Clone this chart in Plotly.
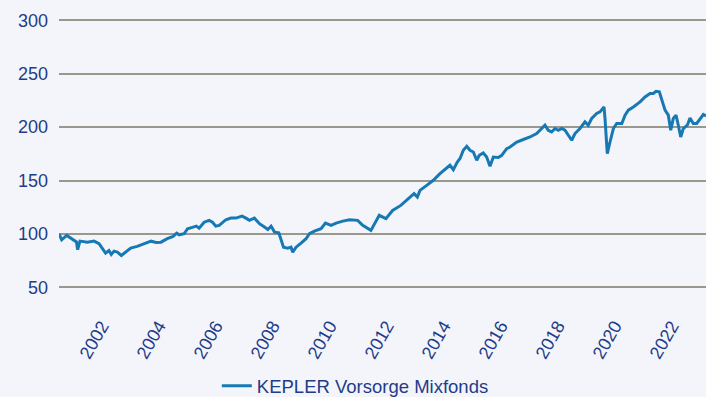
import plotly.graph_objects as go

# Fund price index (start = 100), sampled along the history
dates = [
    "2000-12-25", "2001-01-28", "2001-04-03", "2001-05-15", "2001-06-26", "2001-08-06",
    "2001-08-21", "2001-09-20", "2001-12-23", "2002-03-19", "2002-05-22", "2002-07-03",
    "2002-08-14", "2002-09-26", "2002-10-26", "2002-11-30", "2003-01-12", "2003-03-04",
    "2003-04-27", "2003-07-02", "2003-09-23", "2003-12-24", "2004-03-19", "2004-05-21",
    "2004-07-24", "2004-10-13", "2004-12-26", "2005-02-10", "2005-03-13", "2005-05-17",
    "2005-06-29", "2005-09-09", "2005-10-20", "2005-11-24", "2006-01-28", "2006-04-02",
    "2006-05-15", "2006-06-26", "2006-08-09", "2006-11-02", "2007-01-06", "2007-03-11",
    "2007-05-28", "2007-07-18", "2007-08-31", "2007-11-03", "2008-01-07", "2008-03-11",
    "2008-04-23", "2008-06-04", "2008-07-18", "2008-09-11", "2008-10-10", "2008-11-10",
    "2009-01-03", "2009-02-14", "2009-03-08", "2009-04-20", "2009-06-23", "2009-08-26",
    "2009-10-08", "2009-12-11", "2010-03-06", "2010-05-01", "2010-07-13", "2010-09-15",
    "2010-12-10", "2011-03-05", "2011-06-18", "2011-08-22", "2011-12-05", "2012-03-21",
    "2012-06-14", "2012-09-08", "2012-12-22", "2013-04-07", "2013-06-10", "2013-07-22",
    "2013-08-25", "2013-11-19", "2014-02-12", "2014-05-08", "2014-08-02", "2014-09-13",
    "2014-10-26", "2014-12-16", "2015-01-20", "2015-03-03", "2015-04-16", "2015-05-28",
    "2015-07-09", "2015-08-22", "2015-09-24", "2015-11-14", "2015-12-27", "2016-02-08",
    "2016-03-22", "2016-05-25", "2016-07-07", "2016-09-09", "2016-10-22", "2017-01-16",
    "2017-04-10", "2017-07-05", "2017-09-28", "2017-12-01", "2018-01-13", "2018-02-24",
    "2018-04-08", "2018-05-21", "2018-07-02", "2018-08-15", "2018-09-26", "2018-11-08",
    "2018-12-21", "2019-02-01", "2019-04-06", "2019-06-09", "2019-07-21", "2019-09-03",
    "2019-11-06", "2019-12-19", "2020-01-30", "2020-02-08", "2020-02-21", "2020-03-14",
    "2020-03-21", "2020-04-25", "2020-06-07", "2020-07-20", "2020-09-23", "2020-11-04",
    "2020-12-16", "2021-02-18", "2021-05-15", "2021-07-18", "2021-09-20", "2021-11-01",
    "2021-12-06", "2022-01-17", "2022-02-17", "2022-03-31", "2022-05-12", "2022-06-12",
    "2022-07-15", "2022-08-19", "2022-09-17", "2022-10-18", "2022-11-20", "2023-01-11",
    "2023-02-14", "2023-03-28", "2023-05-11", "2023-06-22", "2023-08-04", "2023-09-07",
]
values = [
    100.0, 94.5, 98.6, 96.4, 94.0, 92.5,
    85.2, 93.3, 92.3, 93.3, 90.8, 86.1,
    82.0, 84.5, 80.8, 83.9, 82.9, 79.8,
    82.9, 86.7, 88.3, 90.8, 93.2, 92.0,
    92.3, 95.5, 97.7, 100.8, 99.2, 100.2,
    104.9, 106.4, 107.3, 105.4, 111.0, 112.7,
    111.0, 107.3, 108.0, 113.3, 114.8, 114.8,
    116.7, 114.8, 112.7, 114.8, 109.6, 106.4,
    104.2, 107.3, 101.7, 101.1, 95.5, 87.6,
    86.7, 87.6, 82.9, 87.6, 91.4, 95.5,
    100.2, 102.6, 104.9, 110.1, 108.0, 110.1,
    112.0, 113.3, 112.7, 108.0, 103.3, 117.4,
    114.3, 122.0, 126.7, 133.0, 137.7, 134.5,
    140.8, 145.5, 150.2, 156.5, 161.2, 164.3,
    160.2, 167.4, 170.6, 178.3, 182.1, 178.3,
    176.7, 169.0, 173.6, 175.8, 172.0, 163.3,
    172.0, 171.5, 173.6, 179.9, 181.4, 186.1,
    188.4, 190.8, 194.0, 198.7, 201.8, 197.1,
    195.5, 198.7, 197.1, 198.7, 197.1, 192.4,
    187.7, 194.0, 198.7, 204.9, 201.8, 208.1,
    212.8, 214.3, 217.5, 219.0, 208.0, 186.1,
    175.2, 186.1, 198.7, 203.4, 203.4, 211.2,
    215.9, 218.9, 223.6, 228.3, 231.5, 231.5,
    233.6, 233.0, 225.2, 215.9, 211.2, 197.1,
    208.1, 211.2, 201.8, 190.8, 198.7, 201.8,
    208.6, 203.4, 203.4, 208.0, 211.8, 210.5,
]

series_name = "KEPLER Vorsorge Mixfonds"
tick_years = ["2002", "2004", "2006", "2008", "2010", "2012",
              "2014", "2016", "2018", "2020", "2022"]
y_ticks = [50, 100, 150, 200, 250, 300]

navy = "#1f3c88"
line_blue = "#1779b4"
grid_grey = "#9a978c"
bg = "#f4f5fb"

fig = go.Figure()
fig.add_trace(go.Scatter(
    x=dates, y=values, mode="lines", name=series_name,
    line=dict(color=line_blue, width=3),
))

fig.update_layout(
    width=706, height=397,
    margin=dict(l=59, r=0, t=15, b=99, autoexpand=False),
    paper_bgcolor=bg, plot_bgcolor=bg,
    font=dict(family="Liberation Sans, Arial, sans-serif", size=18, color=navy),
    showlegend=True,
    legend=dict(orientation="h", x=0.458, xanchor="center", y=-0.245, yanchor="top",
                font=dict(size=18.5, color=navy), bgcolor="rgba(0,0,0,0)"),
    xaxis=dict(
        type="date",
        range=[dates[0], dates[-1]],
        tickvals=[f"{y}-06-25" for y in tick_years],
        ticktext=tick_years,
        tickangle=-60,
        ticklabelstandoff=13,
        showgrid=False, zeroline=False, showline=False,
        automargin=False,
        tickfont=dict(size=18, color=navy),
    ),
    yaxis=dict(
        range=[40, 305],
        tickvals=y_ticks,
        showgrid=True, gridcolor=grid_grey, gridwidth=2,
        zeroline=False, showline=False,
        automargin=False,
        tickfont=dict(size=18, color=navy),
        ticklabelstandoff=10,
    ),
)

fig.write_html("out.html")
